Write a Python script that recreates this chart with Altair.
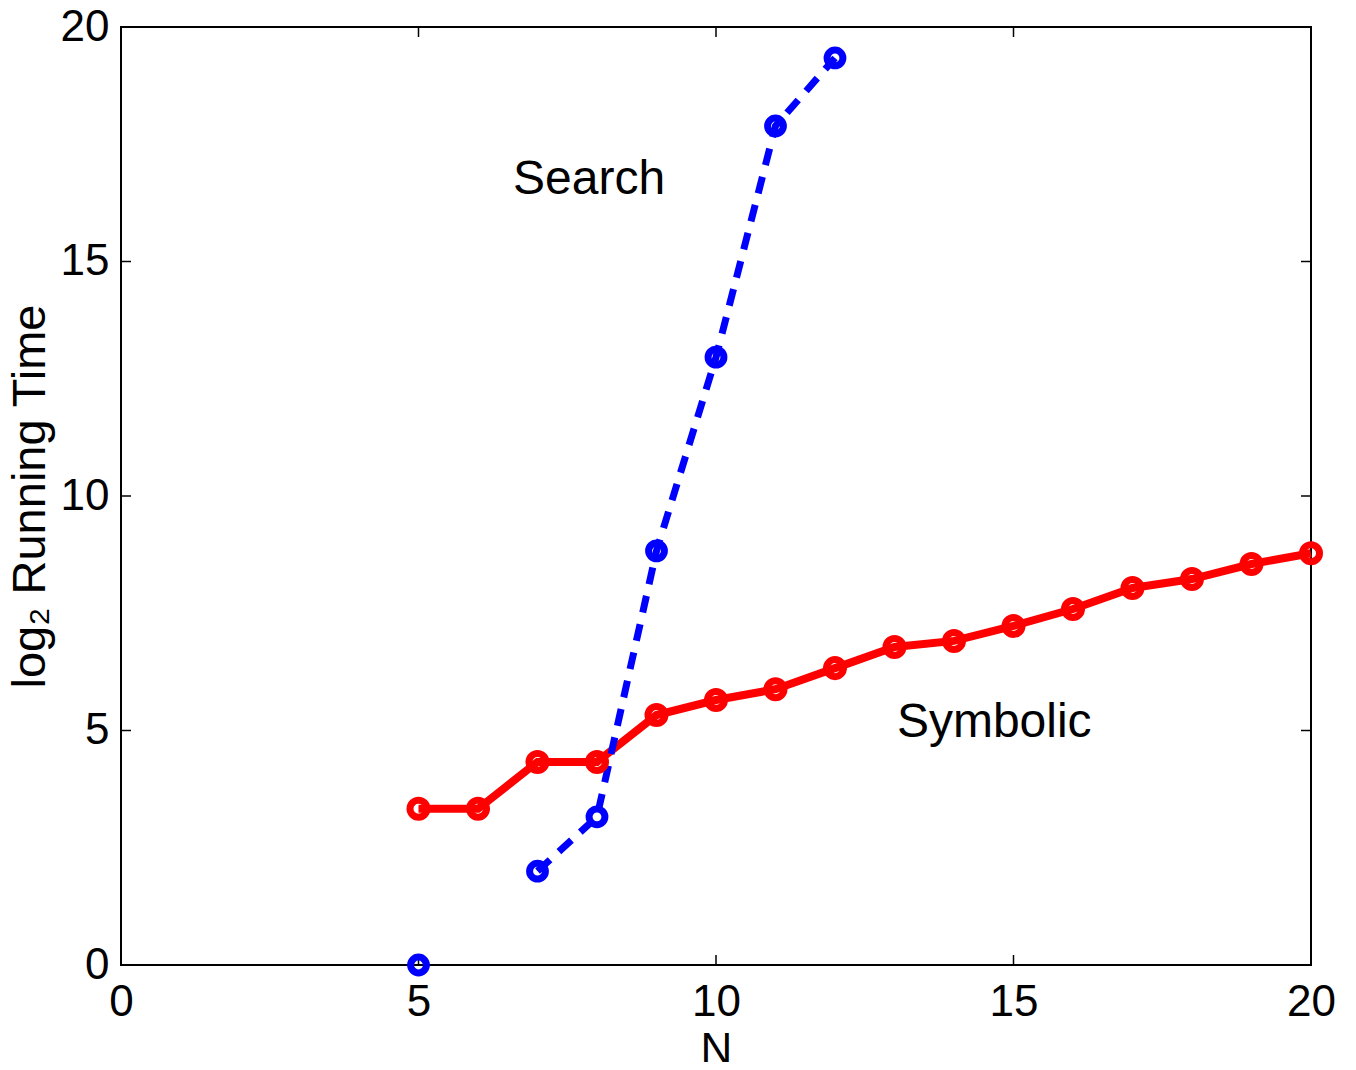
import altair as alt
import pandas as pd

# Data
search_n = [5, 7, 8, 9, 10, 11, 12]
search_t = [0.0, 2.0, 3.16, 8.83, 12.96, 17.89, 19.34]
search_seg = ["a", "b", "b", "b", "b", "b", "b"]

symb_n = [5, 6, 7, 8, 9, 10, 11, 12, 13, 14, 15, 16, 17, 18, 19, 20]
symb_t = [3.33, 3.33, 4.33, 4.33, 5.33, 5.65, 5.88, 6.33, 6.78, 6.91, 7.23, 7.59, 8.04, 8.23, 8.55, 8.78]

x_ticks = [0, 5, 10, 15, 20]
y_ticks = [0, 5, 10, 15, 20]

label_text = ["Search", "Symbolic"]
label_x = [6.59, 13.04]
label_y = [16.74, 5.16]

W, H = 1190, 938
FONT = "Liberation Sans"
FS = 44
TL = 10

search = pd.DataFrame({"N": search_n, "T": search_t, "seg": search_seg})
symb = pd.DataFrame({"N": symb_n, "T": symb_t})
labels = pd.DataFrame({"text": label_text, "x": label_x, "y": label_y})
xt = pd.DataFrame({"v": x_ticks})
yt = pd.DataFrame({"v": y_ticks})

xs = alt.Scale(domain=[0, 20], nice=False, zero=False)
ys = alt.Scale(domain=[0, 20], nice=False, zero=False)

xaxis = alt.Axis(values=x_ticks, format="d", title="N", grid=False, ticks=False, domain=False,
                 labelFontSize=FS, labelFont=FONT, labelColor="black", labelPadding=15,
                 titleFontSize=FS, titleFont=FONT, titleFontWeight="normal", titleColor="black",
                 titlePadding=4, labelFlush=False, labelOverlap=False)
yaxis = alt.Axis(values=y_ticks, format="d", title="log₂ Running Time", grid=False, ticks=False, domain=False,
                 labelFontSize=FS, labelFont=FONT, labelColor="black", labelPadding=12,
                 titleFontSize=47, titleFont=FONT, titleFontWeight="normal", titleColor="black",
                 titlePadding=6, labelFlush=False, labelOverlap=False)

X = alt.X("N:Q", scale=xs, axis=xaxis)
Y = alt.Y("T:Q", scale=ys, axis=yaxis)

red_line = alt.Chart(symb).mark_line(color="#ff0000", strokeWidth=8, clip=False).encode(x=X, y=Y)
red_pts = alt.Chart(symb).mark_point(color="#ff0000", filled=False, strokeWidth=7, size=290,
                                     opacity=1, clip=False).encode(x="N:Q", y="T:Q")

blue_line = alt.Chart(search).mark_line(color="#0000ff", strokeWidth=7, strokeDash=[17, 12],
                                        clip=False).encode(x="N:Q", y="T:Q", detail="seg:N")
blue_pts = alt.Chart(search).mark_point(color="#0000ff", filled=False, strokeWidth=7, size=250,
                                        opacity=1, clip=False).encode(x="N:Q", y="T:Q")

txt = alt.Chart(labels).mark_text(align="left", baseline="middle", font=FONT, fontSize=48,
                                  color="black").encode(x="x:Q", y="y:Q", text="text:N")

tick_style = dict(color="black", strokeWidth=1.5)
bx = alt.Chart(xt).mark_rule(**tick_style).encode(x="v:Q", y=alt.value(H), y2=alt.value(H - TL))
tx = alt.Chart(xt).mark_rule(**tick_style).encode(x="v:Q", y=alt.value(0), y2=alt.value(TL))
ly = alt.Chart(yt).mark_rule(**tick_style).encode(y="v:Q", x=alt.value(0), x2=alt.value(TL))
ry = alt.Chart(yt).mark_rule(**tick_style).encode(y="v:Q", x=alt.value(W - TL), x2=alt.value(W))

chart = alt.layer(bx, tx, ly, ry, red_line, blue_line, red_pts, blue_pts, txt).properties(
    width=W, height=H,
    autosize=alt.AutoSizeParams(type="none"),
    padding={"left": 113, "top": 19, "right": 37, "bottom": 97},
).configure(background="white").configure_view(stroke="black", strokeWidth=2)

chart.save("out.html", embed_options={"renderer": "svg", "actions": False})
